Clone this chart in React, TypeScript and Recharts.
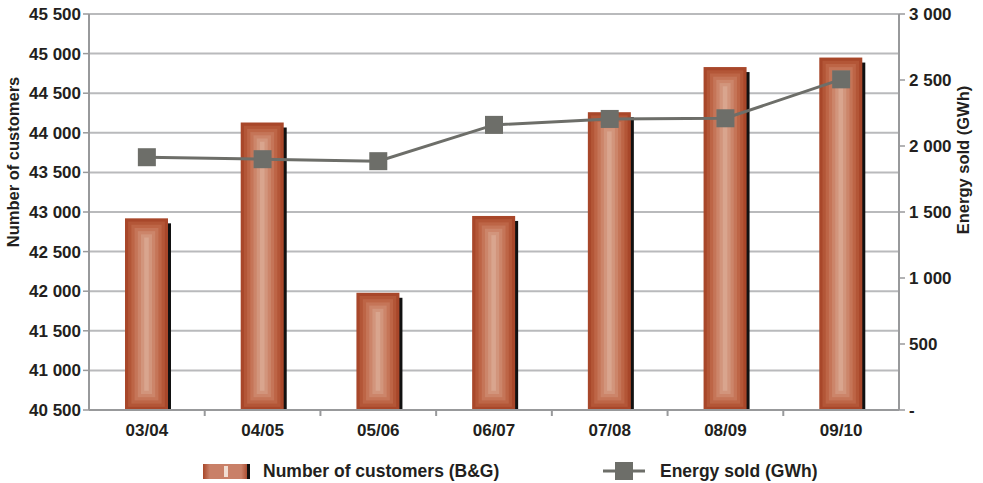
import React from 'react';
import {
  ComposedChart,
  Bar,
  Line,
  XAxis,
  YAxis,
  CartesianGrid,
  Label,
} from 'recharts';

const seasons = ['03/04', '04/05', '05/06', '06/07', '07/08', '08/09', '09/10'];
const customers = [42920, 44130, 41980, 42950, 44260, 44830, 44950];
const energySold = [1915, 1900, 1885, 2160, 2205, 2210, 2505];

const customerTicks = [40500, 41000, 41500, 42000, 42500, 43000, 43500, 44000, 44500, 45000, 45500];
const energyTicks = [0, 500, 1000, 1500, 2000, 2500, 3000];

const data = seasons.map((season, i) => ({
  season,
  customers: customers[i],
  energy: energySold[i],
}));

const FONT = '"Liberation Sans", Arial, sans-serif';
const TEXT = '#231f20';
const AXIS = '#98999b';
const GRID = '#b9babc';
const LINE = '#6d6e69';

// bevelled copper column: nested rects from dark edge to light core
const SHADES = ['#a8472a', '#b35637', '#bd6546', '#c57558', '#cc856a', '#d2957c', '#d9a58e'];

const PLOT_LEFT = 89;
const PLOT_RIGHT = 899;
const BAND = (PLOT_RIGHT - PLOT_LEFT) / seasons.length;

const thousands = (v: number) => {
  const s = String(Math.round(v));
  return s.replace(/\B(?=(\d{3})+(?!\d))/g, ' ');
};

const CopperBar = (props: any) => {
  const { x, y, width, height } = props;
  if (width == null || height == null || height <= 0) return null;
  const step = 3.2;
  return (
    <g>
      <rect x={x + 3} y={y + 5} width={width} height={height - 3} fill="#111" />
      {SHADES.map((c, i) => {
        const inset = i * step;
        const w = width - inset * 2;
        const h = height - inset * 2;
        if (w <= 0 || h <= 0) return null;
        return <rect key={i} x={x + inset} y={y + inset} width={w} height={h} fill={c} />;
      })}
    </g>
  );
};

const SquareDot = (props: any) => {
  const { cx, cy } = props;
  if (cx == null || cy == null) return null;
  return <rect x={cx - 9} y={cy - 9} width={18} height={18} fill={LINE} />;
};

const SeasonTick = (props: any) => {
  const { x, y, payload, index } = props;
  return (
    <g>
      {index < seasons.length - 1 && (
        <line x1={x + BAND / 2} x2={x + BAND / 2} y1={y - 8} y2={y - 2} stroke={AXIS} strokeWidth={2} />
      )}
      <text
        x={x}
        y={y + 18}
        textAnchor="middle"
        fontFamily={FONT}
        fontWeight="bold"
        fontSize={17}
        fill={TEXT}
      >
        {payload.value}
      </text>
    </g>
  );
};

const tickStyle = { fontFamily: FONT, fontWeight: 'bold', fontSize: 17, fill: TEXT };

const LegendRow = () => (
  <div style={{ position: 'absolute', left: 0, top: 458, width: 983, height: 24 }}>
    <svg width={983} height={24}>
      <defs>
        <linearGradient id="legendBar" x1="0" y1="0" x2="1" y2="0">
          <stop offset="0" stopColor="#a8472a" />
          <stop offset="0.15" stopColor="#c98068" />
          <stop offset="0.85" stopColor="#c98068" />
          <stop offset="1" stopColor="#a8472a" />
        </linearGradient>
      </defs>
      <rect x={203} y={6} width={45} height={15} fill="url(#legendBar)" />
      <rect x={247} y={6} width={3} height={15} fill="#111" />
      <rect x={224} y={8} width={4} height={11} fill="#f1ddd2" />
      <text x={263} y={19} fontFamily={FONT} fontWeight="bold" fontSize={17.5} fill={TEXT}>
        Number of customers (B&amp;G)
      </text>
      <line x1={603} x2={645} y1={13} y2={13} stroke={LINE} strokeWidth={3} />
      <rect x={615} y={4} width={18} height={18} fill={LINE} />
      <text x={660} y={19} fontFamily={FONT} fontWeight="bold" fontSize={17.5} fill={TEXT}>
        Energy sold (GWh)
      </text>
    </svg>
  </div>
);

const AxisTitle = ({ x, y, text }: { x: number; y: number; text: string }) => (
  <text
    transform={`translate(${x},${y}) rotate(-90)`}
    textAnchor="middle"
    dominantBaseline="central"
    fontFamily={FONT}
    fontWeight="bold"
    fontSize={16.5}
    fill={TEXT}
  >
    {text}
  </text>
);

export default function App() {
  return (
    <div style={{ position: 'absolute', left: 0, top: 0, width: 983, height: 483, background: '#fff' }}>
      <ComposedChart
        width={983}
        height={483}
        data={data}
        margin={{ top: 14, right: 0, bottom: 43, left: 0 }}
        barCategoryGap={0}
      >
        <CartesianGrid yAxisId="left" horizontal vertical={false} stroke={GRID} strokeWidth={2} />
        <XAxis
          dataKey="season"
          height={30}
          axisLine={{ stroke: AXIS, strokeWidth: 2 }}
          tickLine={false}
          tick={<SeasonTick />}
          interval={0}
        />
        <YAxis
          yAxisId="left"
          width={89}
          domain={[40500, 45500]}
          ticks={customerTicks}
          interval={0}
          allowDataOverflow
          tickFormatter={thousands}
          axisLine={{ stroke: AXIS, strokeWidth: 2 }}
          tickLine={{ stroke: AXIS, strokeWidth: 1.5 }}
          tickSize={6}
          tickMargin={2}
          tick={tickStyle}
        >
          <Label content={() => <AxisTitle x={13} y={162} text="Number of customers" />} />
        </YAxis>
        <YAxis
          yAxisId="right"
          orientation="right"
          width={84}
          domain={[0, 3000]}
          ticks={energyTicks}
          interval={0}
          tickFormatter={(v: number) => (v === 0 ? '-' : thousands(v))}
          axisLine={{ stroke: AXIS, strokeWidth: 2 }}
          tickLine={{ stroke: AXIS, strokeWidth: 1.5 }}
          tickSize={6}
          tickMargin={4}
          tick={tickStyle}
        >
          <Label content={() => <AxisTitle x={963} y={160} text="Energy sold (GWh)" />} />
        </YAxis>
        <Bar
          yAxisId="left"
          dataKey="customers"
          barSize={43}
          shape={<CopperBar />}
          isAnimationActive={false}
        />
        <Line
          yAxisId="right"
          dataKey="energy"
          stroke={LINE}
          strokeWidth={3}
          dot={<SquareDot />}
          activeDot={false}
          isAnimationActive={false}
        />
      </ComposedChart>
      <LegendRow />
    </div>
  );
}
